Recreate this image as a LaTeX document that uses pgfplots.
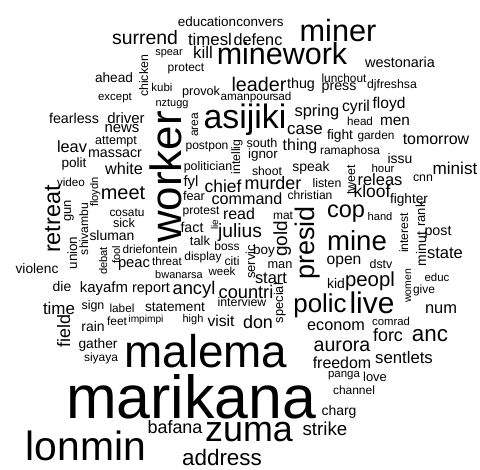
\documentclass[border=0pt]{standalone}
\usepackage{fontspec}
\setmainfont{Liberation Sans}
\usepackage{pgfplots}
\usepackage{pgfplotstable}
\pgfplotsset{compat=1.18}
\pgfplotstableread{
x y size rot word
145 45 19.5 0 surrend
169 56 11 0 spear
148 76 12.4 90 chicken
114 83 13.7 0 ahead
162 92 11.5 0 kubi
115 101 11.5 0 except
172 107 11 0 nztugg
74 124 14.3 0 fearless
126 124 15 0 driver
181 177 44 90 worker
207 27 13.5 0 education
260 27 13.5 0 convers
210 46 16.9 0 timesl
258 46 16.3 0 defenc
203 59 17 0 kill
282 65 30.6 0 minework
186 72 12 0 protect
259 92 19.8 0 leader
301 89 14.4 0 thug
201 96 12.7 0 provok
247 101 11.8 0 amanpour
282 101 11.8 0 sad
198 125 12 90 area
245 129 34 0 asijiki
317 117 16.5 0 spring
338 42 30.8 0 miner
400 68 14.5 0 westonaria
344 83 11.9 0 lunchout
339 91 14.3 0 press
392 89 12.3 0 djfreshsa
356 112 15.8 0 cyril
389 109 15.6 0 floyd
360 126 11.7 0 head
395 126 15.4 0 men
122 133 15 0 news
72 153 16.4 0 leav
116 145 12.6 0 attempt
115 158 14.3 0 massacr
74 168 13.6 0 polit
124 175 16.3 0 white
71 187 11.7 0 video
98 192 11.2 90 floydn
123 200 20 0 meet
60 219 23.5 90 retreat
71 211 13 90 gun
88 229 12.2 90 shivambu
127 217 11.9 0 cosatu
124 228 12.8 0 sick
112 240 14 0 sluman
207 150 12.1 0 postpon
240 157 12.3 90 intellig
262 148 12.7 0 south
305 135 17 0 case
300 151 16 0 thing
263 159 13.5 0 ignor
208 171 12.5 0 politician
267 176 12.3 0 shoot
311 172 14 0 speak
191 187 15 0 fyl
223 193 17.5 0 chief
273 190 18 0 murder
327 188 12.4 0 listen
194 201 12.8 0 fear
247 205 16.2 0 command
310 200 12.1 0 christian
201 215 12.1 0 protest
239 220 16 0 read
283 220 12 0 mat
192 233 14.3 0 fact
218 225 10 90 lie
240 238 19.3 0 julius
287 239 19 90 gold
314 243 27 90 presid
340 140 13.8 0 fight
376 140 11.9 0 garden
436 145 16 0 tomorrow
350 155 12 0 ramaphosa
400 164 14 0 issu
383 173 11.5 0 hour
455 175 17.2 0 minist
355 180 12.5 90 tweet
380 186 16.5 0 releas
423 182 12.4 0 cnn
372 198 17.5 0 kloof
409 204 13.7 0 fighter
346 218 23.6 0 cop
380 221 11.2 0 hand
408 233 12.2 90 interest
425 214 13 90 rank
438 236 14.3 0 post
426 249 14 90 minut
445 258 16.6 0 state
357 250 27.7 0 mine
344 264 15.7 0 open
381 268 12.5 0 dstv
411 286 10.5 90 women
437 281 11.5 0 educ
424 293 12 0 give
336 288 14 0 kid
370 286 20.4 0 peopl
372 313 30 0 live
320 312 26 0 polic
441 313 16.5 0 num
336 330 16.3 0 econom
391 325 11.4 0 comrad
388 341 18 0 forc
430 341 22.5 0 anc
342 351 19.7 0 aurora
404 363 16.8 0 sentlets
342 368 16 0 freedom
344 377 11.5 0 panga
375 381 13 0 love
354 394 12 0 channel
339 415 14 0 charg
325 435 18.8 0 strike
77 253 13.5 90 union
107 261 11.2 90 debat
120 255 11 90 fool
150 253 11.8 0 driefontein
37 273 13.8 0 violenc
134 267 14.8 0 peac
167 265 11.7 0 threat
179 278 11 0 bwanarsa
62 291 14 0 die
104 292 15 0 kayafm
151 292 14.5 0 report
59 314 17 0 time
93 309 12.5 0 sign
122 312 11.8 0 label
175 311 13.7 0 statement
70 331 18 90 field
93 331 14 0 rain
117 325 12 0 feet
146 322 10.2 0 impimpi
98 348 13.8 0 gather
101 361 12 0 siyaya
86 460 41 0 lonmin
175 433 18 0 bafana
249 441 36 0 zuma
222 465 22.5 0 address
206 367 46 0 malema
191 418 61 0 marikana
200 245 13 0 talk
227 250 12 0 boss
203 260 12 0 display
232 265 12.3 0 citi
255 262 13 90 servic
264 254 13.6 0 boy
280 268 12.8 0 man
222 275 11.6 0 week
271 283 16.5 0 start
194 294 18.4 0 ancyl
246 298 18.3 0 countri
283 303 12.9 90 special
242 306 12.4 0 interview
193 322 11 0 high
221 326 15.7 0 visit
258 328 18 0 don
}\words
\begin{document}
\begin{tikzpicture}
\begin{axis}[
  width=480bp, height=470bp, scale only axis,
  xmin=0, xmax=480, ymin=0, ymax=470, y dir=reverse,
  hide axis, clip=false,
]
\path (axis cs:0,0) rectangle (axis cs:480,470);
\addplot[only marks, mark=*, mark size=0pt, mark options={draw=none,fill=none},
  point meta=explicit symbolic,
  visualization depends on={\thisrow{size} \as \wsize},
  visualization depends on={\thisrow{rot} \as \wrot},
  nodes near coords,
  nodes near coords style={anchor=base, inner sep=0pt, rotate=\wrot,
    font=\fontsize{\wsize}{\wsize}\selectfont, text=black},
] table[x=x, y=y, meta=word] {\words};
\end{axis}
\end{tikzpicture}
\end{document}
